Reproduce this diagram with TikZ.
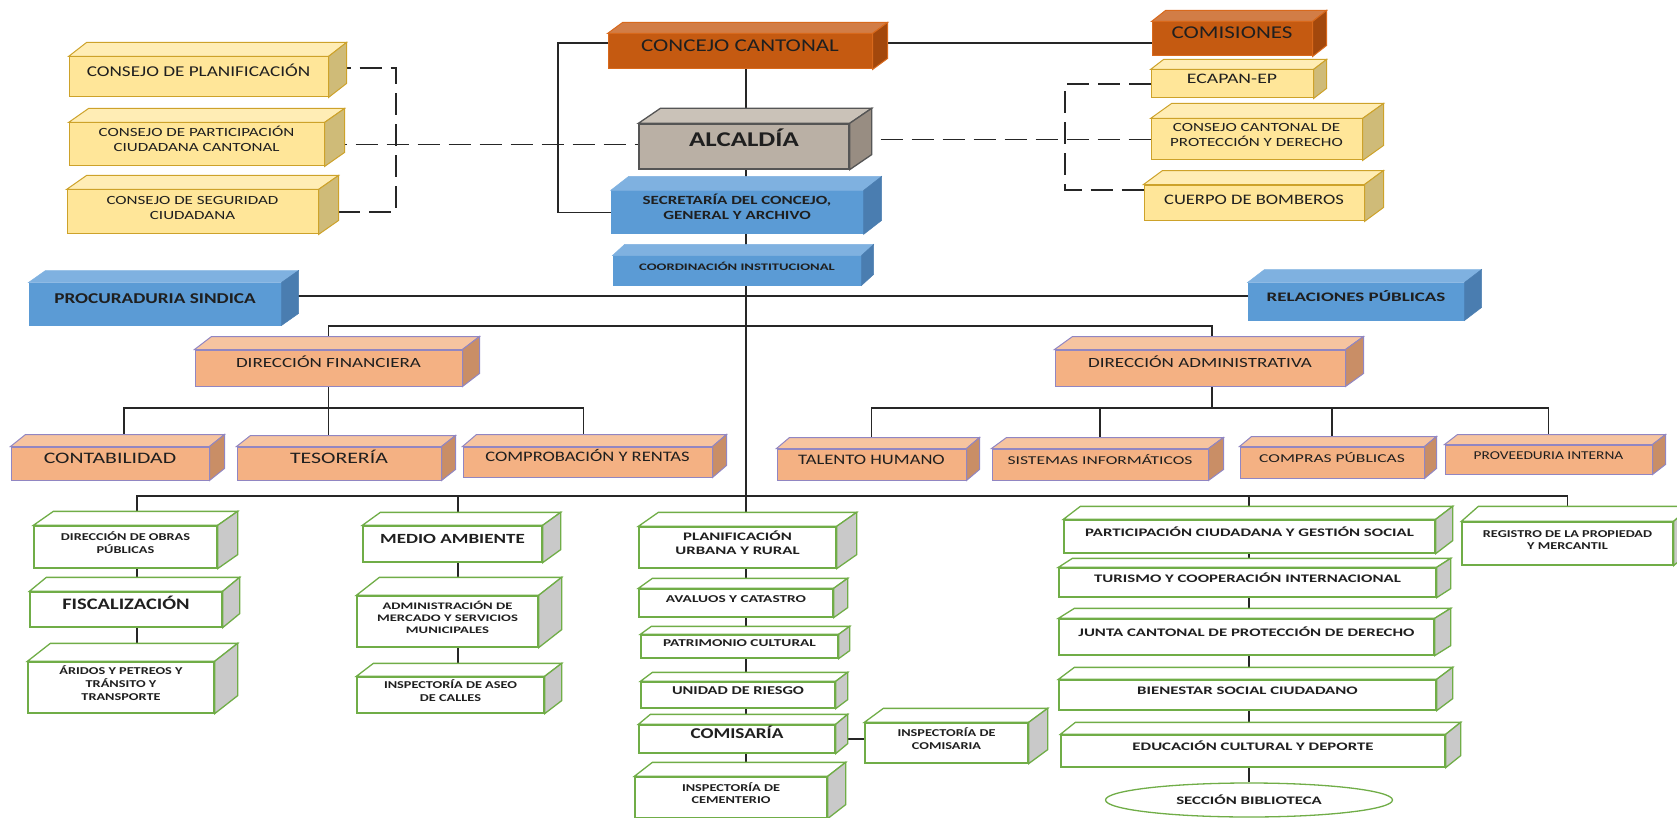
\documentclass[tikz,border=0pt]{standalone}
\usepackage{fontspec}
\setmainfont{Carlito}
\newfontfamily\fa{Carlito}[FakeStretch=1.28]
\newfontfamily\fb{Carlito}[FakeStretch=1.36]
\newfontfamily\fc{Carlito}[FakeStretch=1.46]
\usetikzlibrary{calc,fit,backgrounds,shapes.geometric}

\definecolor{naranja1}{HTML}{C55A11}
\definecolor{naranja2}{HTML}{D27D46}
\definecolor{naranja3}{HTML}{A3480C}
\definecolor{naranja4}{HTML}{D8691C}
\definecolor{amarillo1}{HTML}{FFE699}
\definecolor{amarillo2}{HTML}{FFEDB5}
\definecolor{amarillo3}{HTML}{CFBB78}
\definecolor{amarillo4}{HTML}{CDA22A}
\definecolor{gris1}{HTML}{BAB0A5}
\definecolor{gris2}{HTML}{CAC2B8}
\definecolor{gris3}{HTML}{988D82}
\definecolor{gris4}{HTML}{555555}
\definecolor{azul1}{HTML}{5B9BD5}
\definecolor{azul2}{HTML}{7FB1E0}
\definecolor{azul3}{HTML}{4A7DB0}
\definecolor{salmon1}{HTML}{F4B183}
\definecolor{salmon2}{HTML}{F6C4A0}
\definecolor{salmon3}{HTML}{C98E66}
\definecolor{salmon4}{HTML}{9186C2}
\definecolor{verde1}{HTML}{70AD47}
\definecolor{verde3}{HTML}{C9C9C9}

\newcommand{\tam}[1]{\fontsize{#1}{\dimexpr#1pt*6/5\relax}\selectfont}

% caja en 3D: [opciones]{tipo}{nombre}{esquina sup. izq.}{esquina inf. der.}{dx}{dy}{texto}
\newcommand{\caja}[8][]{%
  \node[#2, fit={#4 #5}, #1] (#3) {#8};
  \filldraw[#2 top] (#3.north west) -- ++(#6,-#7) -- ($(#3.north east)+(#6,-#7)$) -- (#3.north east) -- cycle;
  \filldraw[#2 side] (#3.north east) -- ++(#6,-#7) -- ($(#3.south east)+(#6,-#7)$) -- (#3.south east) -- cycle;
}

\tikzset{
  caja/.style={inner sep=0pt, align=center, text=black!88, line width=1pt},
  naranja/.style={caja, fill=naranja1, draw=naranja4},
  naranja top/.style={fill=naranja2, draw=naranja4, line width=1pt},
  naranja side/.style={fill=naranja3, draw=naranja4, line width=1pt},
  amarillo/.style={caja, fill=amarillo1, draw=amarillo4},
  amarillo top/.style={fill=amarillo2, draw=amarillo4, line width=1pt},
  amarillo side/.style={fill=amarillo3, draw=amarillo4, line width=1pt},
  gris/.style={caja, fill=gris1, draw=gris4, line width=1.3pt},
  gris top/.style={fill=gris2, draw=gris4, line width=1.3pt},
  gris side/.style={fill=gris3, draw=gris4, line width=1.3pt},
  azul/.style={caja, fill=azul1, draw=azul1},
  azul top/.style={fill=azul2, draw=azul2, line width=0.5pt},
  azul side/.style={fill=azul3, draw=azul3, line width=0.5pt},
  salmon/.style={caja, fill=salmon1, draw=salmon4},
  salmon top/.style={fill=salmon2, draw=salmon4, line width=1pt},
  salmon side/.style={fill=salmon3, draw=salmon4, line width=1pt},
  verde/.style={caja, fill=white, draw=verde1, line width=1.3pt},
  verde top/.style={fill=white, draw=verde1, line width=1.3pt},
  verde side/.style={fill=verde3, draw=verde1, line width=1.3pt},
  elipse/.style={ellipse, draw=verde1, fill=white, line width=1.3pt, inner sep=0pt, text=black!88},
  linea/.style={draw=black!85, line width=1.4pt},
  punteada/.style={linea, dash pattern=on 22pt off 9pt},
}

\begin{document}
\begin{tikzpicture}[x=1pt, y=-1pt]
\useasboundingbox (0,0) rectangle (1677,818);

% nivel legislativo y ejecutivo
\caja[font=\fa\tam{18}]{naranja}{concejo}{(608,34)}{(872,69)}{15}{11}{CONCEJO CANTONAL}
\caja[font=\fa\tam{18}]{naranja}{comisiones}{(1152,22)}{(1312,56)}{14}{11}{COMISIONES}
\caja[font=\fa\tam{21}\bfseries]{gris}{alcaldia}{(639,124)}{(849,169)}{22}{15}{ALCALDÍA}
\caja[font=\fb\tam{12.5}\bfseries]{azul}{secretaria}{(611,191)}{(863,234)}{18}{14}{SECRETARÍA DEL CONCEJO,\\GENERAL Y ARCHIVO}
\caja[font=\fc\tam{10}\bfseries]{azul}{coord}{(613,256)}{(861,285)}{12}{11}{COORDINACIÓN INSTITUCIONAL}

% consejos
\caja[font=\fa\tam{15}]{amarillo}{cplan}{(69,57)}{(328,97)}{18}{14}{CONSEJO DE PLANIFICACIÓN}
\caja[font=\fb\tam{12.5}]{amarillo}{cpart}{(69,123)}{(324,166)}{20}{14}{CONSEJO DE PARTICIPACIÓN\\CIUDADANA CANTONAL}
\caja[font=\fb\tam{12.5}]{amarillo}{cseg}{(67,190)}{(318,234)}{20}{14}{CONSEJO DE SEGURIDAD\\CIUDADANA}

% adscritas
\caja[font=\fb\tam{14.5}]{amarillo}{ecapan}{(1151,70)}{(1313,98)}{13}{10}{ECAPAN-EP}
\caja[font=\fb\tam{12.5}]{amarillo}{ccpd}{(1151,119)}{(1362,160)}{21}{15}{CONSEJO CANTONAL DE\\PROTECCIÓN Y DERECHO}
\caja[font=\fa\tam{14.5}, text depth=16pt]{amarillo}{bomberos}{(1144,183)}{(1364,223)}{19}{14}{CUERPO DE BOMBEROS}

% asesoria
\caja[font=\fa\tam{15}\bfseries]{azul}{procuraduria}{(29,283)}{(281,325)}{17}{12}{PROCURADURIA SINDICA}
\caja[font=\fc\tam{13}\bfseries]{azul}{relaciones}{(1248,283)}{(1464,320)}{17}{13}{RELACIONES PÚBLICAS}

% apoyo
\caja[font=\fb\tam{14}]{salmon}{financiera}{(195,350)}{(462,386)}{17}{13}{DIRECCIÓN FINANCIERA}
\caja[font=\fb\tam{14}]{salmon}{administrativa}{(1055,350)}{(1345,386)}{18}{13}{DIRECCIÓN ADMINISTRATIVA}
\caja[font=\fb\tam{16}]{salmon}{conta}{(11,447)}{(209,480)}{15}{12}{CONTABILIDAD}
\caja[font=\fb\tam{16}]{salmon}{teso}{(237,447)}{(441,480)}{14}{11}{TESORERÍA}
\caja[font=\fa\tam{14.5}]{salmon}{compro}{(463,447)}{(712,477)}{14}{12}{COMPROBACIÓN Y RENTAS}
\caja[font=\fa\tam{14.5}]{salmon}{talento}{(777,449)}{(966,480)}{13}{11}{TALENTO HUMANO}
\caja[font=\fc\tam{12}]{salmon}{sistemas}{(992,449)}{(1208,480)}{15}{11}{SISTEMAS INFORMÁTICOS}
\caja[font=\fc\tam{12}]{salmon}{compras}{(1240,447)}{(1424,478)}{12}{10}{COMPRAS PÚBLICAS}
\caja[font=\fa\tam{12}]{salmon}{proveeduria}{(1445,445)}{(1652,474)}{13}{10}{PROVEEDURIA INTERNA}

% operativo
\caja[font=\fb\tam{10.5}\bfseries]{verde}{obras}{(34,526)}{(217,568)}{20}{14}{DIRECCIÓN DE OBRAS\\PÚBLICAS}
\caja[font=\fa\tam{16}\bfseries]{verde}{fiscal}{(30,592)}{(222,627)}{17}{14}{FISCALIZACIÓN}
\caja[font=\fb\tam{10.5}\bfseries]{verde}{aridos}{(28,662)}{(214,713)}{23}{18}{ÁRIDOS Y PETREOS Y\\TRÁNSITO Y\\TRANSPORTE}
\caja[font=\fb\tam{14}\bfseries]{verde}{medio}{(363,526)}{(542,562)}{18}{13}{MEDIO AMBIENTE}
\caja[font=\fc\tam{10}\bfseries]{verde}{mercado}{(357,596)}{(538,647)}{23}{18}{ADMINISTRACIÓN DE\\MERCADO Y SERVICIOS\\MUNICIPALES}
\caja[font=\fb\tam{10.5}\bfseries]{verde}{aseo}{(357,677)}{(544,713)}{17}{13}{INSPECTORÍA DE ASEO\\DE CALLES}
\caja[font=\fc\tam{11.5}\bfseries]{verde}{plan}{(639,527)}{(836,568)}{20}{14}{PLANIFICACIÓN\\URBANA Y RURAL}
\caja[font=\fc\tam{10.5}\bfseries]{verde}{avaluos}{(639,589)}{(833,617)}{14}{10}{AVALUOS Y CATASTRO}
\caja[font=\fc\tam{10.5}\bfseries]{verde}{patrimonio}{(641,635)}{(838,658)}{11}{8}{PATRIMONIO CULTURAL}
\caja[font=\fb\tam{12}\bfseries]{verde}{riesgo}{(641,682)}{(835,708)}{12}{9}{UNIDAD DE RIESGO}
\caja[font=\fa\tam{15}\bfseries]{verde}{comisaria}{(639,725)}{(835,753)}{12}{10}{COMISARÍA}
\caja[font=\fb\tam{10.5}\bfseries]{verde}{inspcom}{(865,723)}{(1028,763)}{19}{14}{INSPECTORÍA DE\\COMISARIA}
\caja[font=\fb\tam{10.5}\bfseries]{verde}{cementerio}{(635,777)}{(827,818)}{18}{14}{INSPECTORÍA DE\\CEMENTERIO}
\caja[font=\fc\tam{11.5}\bfseries]{verde}{participacion}{(1064,520)}{(1435,553)}{17}{13}{PARTICIPACIÓN CIUDADANA Y GESTIÓN SOCIAL}
\caja[font=\fc\tam{11.5}\bfseries]{verde}{turismo}{(1059,568)}{(1436,597)}{14}{9}{TURISMO Y COOPERACIÓN INTERNACIONAL}
\caja[font=\fc\tam{11.5}\bfseries]{verde}{junta}{(1059,619)}{(1434,655)}{16}{10}{JUNTA CANTONAL DE PROTECCIÓN DE DERECHO}
\caja[font=\fc\tam{11.5}\bfseries]{verde}{bienestar}{(1059,680)}{(1436,710)}{16}{12}{BIENESTAR SOCIAL CIUDADANO}
\caja[font=\fc\tam{11.5}\bfseries]{verde}{educacion}{(1061,735)}{(1445,767)}{15}{12}{EDUCACIÓN CULTURAL Y DEPORTE}
\node[elipse, font=\fc\tam{11.5}\bfseries, minimum width=287pt, minimum height=34pt] (biblioteca) at (1249,800) {SECCIÓN BIBLIOTECA};
\caja[font=\fb\tam{10.5}\bfseries]{verde}{registro}{(1462,522)}{(1673,565)}{17}{15}{REGISTRO DE LA PROPIEDAD\\Y MERCANTIL}

% ejes y niveles de las lineas
\coordinate (eje) at (746,0);
\coordinate (ramal) at (558,0);
\coordinate (izq) at (396,0);
\coordinate (der) at (1065,0);
\coordinate (colA) at (137,0);
\coordinate (colB) at (458,0);
\coordinate (colC) at (1249,0);
\coordinate (nivel1) at (0,43);
\coordinate (nivel2) at (0,296);
\coordinate (nivel3) at (0,326);
\coordinate (nivel4) at (0,408);
\coordinate (nivel5) at (0,496);
\coordinate (bomb) at ([yshift=13pt]bomberos.west);
\coordinate (pln) at ([yshift=9pt]cplan.east);

\begin{scope}[on background layer]
% tronco central
\draw[linea] (concejo.south -| eje) -- (cementerio.north -| eje);
\draw[linea] (concejo.west |- nivel1) -| (ramal |- secretaria.west) -- (secretaria.west);
\draw[linea] (concejo.east |- nivel1) -- (comisiones.west |- nivel1);
% consejos y adscritas
\draw[punteada] (pln) -| (izq |- cseg.east) -- (cseg.east);
\draw[punteada] (cpart.east) -- (alcaldia.west |- cpart.east);
\draw[punteada] (ecapan.west) -| (der |- bomb) -- (bomb);
\draw[punteada] (alcaldia.east |- ccpd.west) -- (ccpd.west);
% asesoria y direcciones
\draw[linea] (procuraduria.east |- nivel2) -- (relaciones.west |- nivel2);
\draw[linea] (financiera.north) |- ([xshift=12pt]administrativa.north |- nivel3) -- ([xshift=12pt]administrativa.north);
\draw[linea] (financiera.south) -- (teso.north -| financiera.south);
\draw[linea] ([xshift=14pt]conta.north) |- ([xshift=-4pt]compro.north |- nivel4) -- ([xshift=-4pt]compro.north);
\draw[linea] ([xshift=12pt]administrativa.south) -- ([xshift=12pt]administrativa.south |- nivel4);
\draw[linea] (talento.north) |- (proveeduria.north |- nivel4) -- (proveeduria.north);
\foreach \n in {sistemas,compras}
  \draw[linea] (\n.north) -- (\n.north |- nivel4);
% nivel operativo
\draw[linea] (colA |- obras.north) |- (registro.north |- nivel5) -- (registro.north);
\draw[linea] (colB |- nivel5) -- (colB |- medio.north);
\draw[linea] (colC |- nivel5) -- (colC |- participacion.north);
\foreach \a/\b in {obras/fiscal, fiscal/aridos}
  \draw[linea] (\a.south -| colA) -- (\b.north -| colA);
\foreach \a/\b in {medio/mercado, mercado/aseo}
  \draw[linea] (\a.south -| colB) -- (\b.north -| colB);
\foreach \a/\b in {participacion/turismo, turismo/junta, junta/bienestar, bienestar/educacion, educacion/biblioteca}
  \draw[linea] (\a.south -| colC) -- (\b.north -| colC);
\draw[linea] (comisaria.east) -- (comisaria.east -| inspcom.west);
\end{scope}
\end{tikzpicture}
\end{document}
